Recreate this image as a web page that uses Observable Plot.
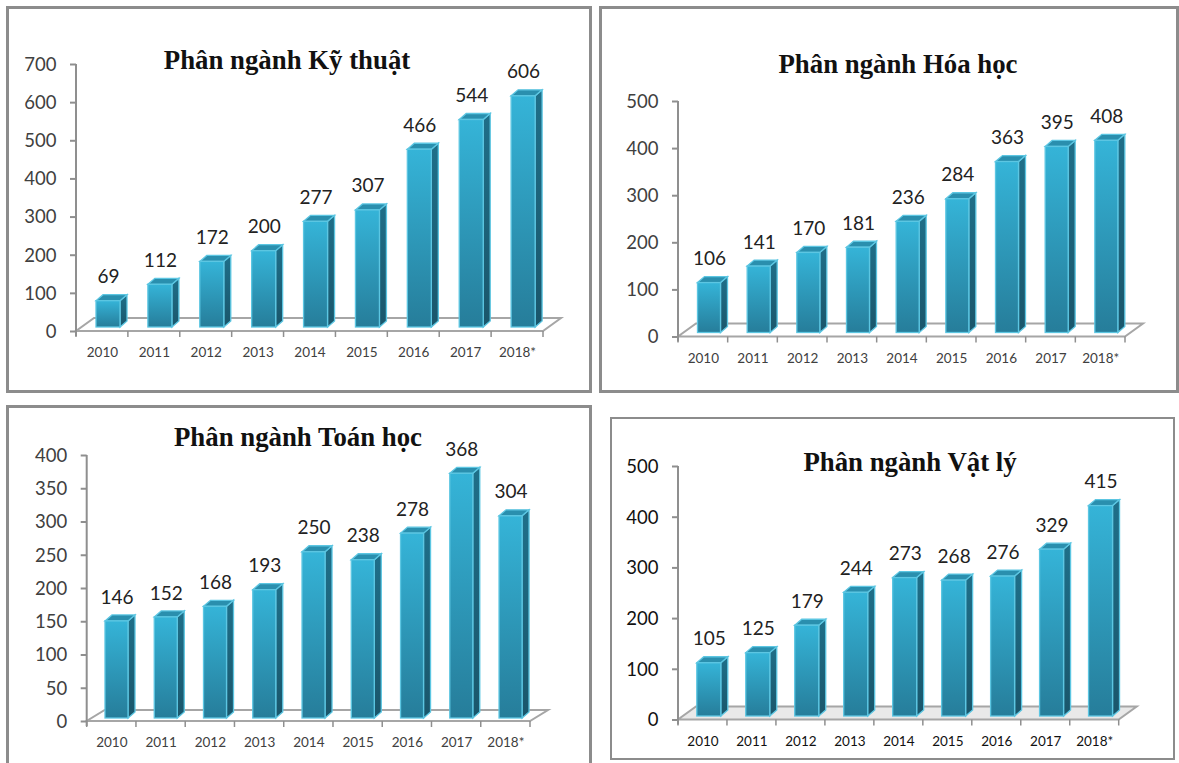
<!DOCTYPE html>
<html lang="vi">
<head>
<meta charset="utf-8">
<script src="https://cdn.jsdelivr.net/npm/d3@7"></script>
<script src="https://cdn.jsdelivr.net/npm/@observablehq/plot@0.6"></script>
<style>
html,body{margin:0;padding:0;background:#fff;overflow:hidden}
#page{position:relative;width:1179px;height:763px;overflow:hidden}
.box{position:absolute;box-sizing:border-box;background:#fff}
.box svg{position:absolute;left:0;top:0;overflow:visible;background:transparent}
.ttl{position:absolute;transform:translate(-50%,-50%);font:bold 26.8px "Liberation Serif",serif;color:#111;white-space:nowrap;z-index:2}
</style>
</head>
<body>
<div id="page"></div>
<script>
const years = ["2010","2011","2012","2013","2014","2015","2016","2017","2018*"];
const kyThuat = [69,112,172,200,277,307,466,544,606];
const hoaHoc  = [106,141,170,181,236,284,363,395,408];
const toanHoc = [146,152,168,193,250,238,278,368,304];
const vatLy   = [105,125,179,244,273,268,276,329,415];
const ticks700 = [0,100,200,300,400,500,600,700];
const ticks500 = [0,100,200,300,400,500];
const ticks400 = [0,50,100,150,200,250,300,350,400];

const panels = [
  {id:"a",title:"Phân ngành Kỹ thuật",values:kyThuat,ticks:ticks700,max:700,
   box:[6,6,592,393],border:3,ax:[76,543],ay:[331,64],off:20,w:24,lift:4,fy:13,title_xy:[287,60],ink:"#404040",floor:"#fff"},
  {id:"b",title:"Phân ngành Hóa học",values:hoaHoc,ticks:ticks500,max:500,
   box:[599,6,1179,393],border:3,ax:[678,1125],ay:[336.5,101],off:19.5,w:23,lift:4,fy:13,title_xy:[898,64],ink:"#404040",floor:"#fff"},
  {id:"c",title:"Phân ngành Toán học",values:toanHoc,ticks:ticks400,max:400,
   box:[6,405,592,770],border:3,ax:[86.7,530],ay:[721,455],off:18.3,w:23,lift:3,fy:11,title_xy:[298,437],ink:"#404040",floor:"#fff"},
  {id:"d",title:"Phân ngành Vật lý",values:vatLy,ticks:ticks500,max:500,
   box:[610,417,1175,760],border:2,ax:[678,1118.7],ay:[719.5,466],off:18.8,w:24,lift:3.5,fy:13,title_xy:[910,462],ink:"#111",floor:"#e9e9e9"}
];

const DX = 7, DY = 6, FX = 18;
const grey = "#8f8f8f", edge = "#5cc6e2", fonts = "Lato, 'Noto Sans', sans-serif";

function decorations(p, rows) {
  return (index, {x, y}) => {
    const step = x(years[1]) - x(years[0]);
    const xa = x(years[0]), xb = x(years[years.length-1]) + step, y0 = y(0);
    const g = d3.create("svg:g");
    const defs = g.append("defs");
    const grad = (id, a, b) => {
      const l = defs.append("linearGradient").attr("id", id).attr("x1",0).attr("y1",0).attr("x2",0).attr("y2",1);
      l.append("stop").attr("offset",0).attr("stop-color",a);
      l.append("stop").attr("offset",1).attr("stop-color",b);
    };
    grad(p.id+"f","#35b4d8","#267d9a");
    grad(p.id+"s","#1f6f89","#1a566b");
    g.append("polygon")
      .attr("points",[[xa,y0],[xb,y0],[xb+FX,y0-p.fy],[xa+FX,y0-p.fy]].join(" "))
      .attr("fill",p.floor).attr("stroke","#a6a6a6").attr("stroke-width",2);
    g.append("line").attr("x1",xa).attr("x2",xa).attr("y1",y0+5).attr("y2",y(p.max))
      .attr("stroke",grey).attr("stroke-width",2);
    years.concat([""]).forEach((_,i) => {
      g.append("line").attr("x1",xa+i*step).attr("x2",xa+i*step).attr("y1",y0).attr("y2",y0+6)
        .attr("stroke",grey).attr("stroke-width",1.5);
    });
    rows.forEach(r => {
      const l = x(r.year) + p.off, rr = l + p.w, t = y(r.value) - p.lift, b = y0 - p.lift;
      g.append("polygon").attr("points",[[rr,t],[rr+DX,t-DY],[rr+DX,b-DY],[rr,b]].join(" "))
        .attr("fill",`url(#${p.id}s)`).attr("stroke",edge).attr("stroke-width",1.3);
      g.append("polygon").attr("points",[[l,t],[l+DX,t-DY],[rr+DX,t-DY],[rr,t]].join(" "))
        .attr("fill","#2a8fae").attr("stroke",edge).attr("stroke-width",1.3);
    });
    return g.node();
  };
}

const page = document.getElementById("page");
panels.forEach(p => {
  const rows = years.map((year,i) => ({year, value:p.values[i]}));
  const [L,T,R,B] = p.box;
  const W = R-L, H = B-T, step = (p.ax[1]-p.ax[0])/years.length;
  const box = document.createElement("div");
  box.className = "box";
  box.style.cssText = `left:${L}px;top:${T}px;width:${W}px;height:${H}px;outline:${p.border}px solid #8c8c8c;outline-offset:-${p.border}px`;
  const chart = Plot.plot({
    width:W, height:H,
    marginLeft:p.ax[0]-L, marginRight:R-p.ax[1],
    marginTop:p.ay[1]-T, marginBottom:B-p.ay[0],
    x:{type:"band",domain:years,padding:0,round:false,label:null},
    y:{domain:[0,p.max],label:null},
    style:{background:"transparent",overflow:"visible"},
    marks:[
      decorations(p,rows),
      Plot.barY(rows,{x:"year",y:"value",fill:`url(#${p.id}f)`,stroke:edge,strokeWidth:1.3,
        insetLeft:p.off,insetRight:step-p.off-p.w,dy:-p.lift}),
      Plot.text(rows,{x:"year",y:"value",text:d=>String(d.value),dx:p.off+p.w/2-step/2,dy:-p.lift-24,
        fontSize:19,fontFamily:fonts,fill:"#222"}),
      Plot.axisY({ticks:p.ticks,tickSize:6,tickFormat:()=>"",stroke:grey,strokeWidth:2,label:null}),
      Plot.axisY({ticks:p.ticks,tickSize:0,tickPadding:20,dy:0.5,fill:p.ink,
        fontSize:18.5,fontFamily:fonts,label:null}),
      Plot.axisX({tickSize:0,tickPadding:16,fill:p.ink,fontSize:13.5,fontFamily:fonts,label:null})
    ]
  });
  box.appendChild(chart);
  page.appendChild(box);
  const t = document.createElement("div");
  t.className = "ttl";
  t.textContent = p.title;
  t.style.left = p.title_xy[0]+"px";
  t.style.top = p.title_xy[1]+"px";
  page.appendChild(t);
});
</script>
</body>
</html>
